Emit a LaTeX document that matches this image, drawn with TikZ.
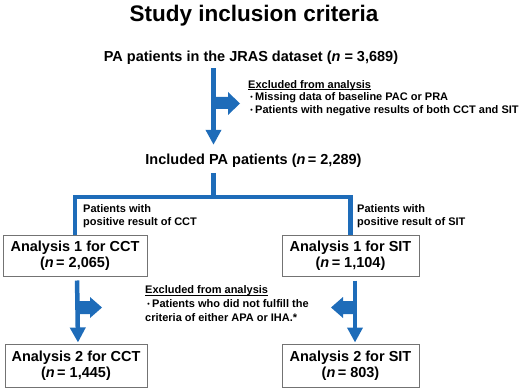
\documentclass[tikz,border=0pt]{standalone}
\usepackage{fontspec}
\setmainfont{Liberation Sans}
\usetikzlibrary{calc, positioning, arrows.meta}

\definecolor{jblue}{RGB}{30,108,185}
\definecolor{boxgray}{RGB}{115,115,115}
\newcommand{\jdot}{\makebox[7pt]{\raisebox{1.3pt}{\fontsize{7}{7}\selectfont\textbullet}}}
\newcommand{\exhead}{\underline{\smash{Excluded from analysis}}}

\begin{document}
\begin{tikzpicture}[x=1pt, y=-1pt,
    main/.style={font=\fontsize{14.5}{16}\selectfont\bfseries, inner sep=0pt, text height=10.5pt, text depth=3pt},
    box/.style={draw=boxgray, line width=1pt, align=center, font=\fontsize{14.5}{16}\selectfont\bfseries, inner sep=0pt},
    note/.style={align=left, anchor=west, inner sep=0pt, font=\fontsize{11}{12.6}\selectfont\bfseries},
    flow/.style={draw=jblue, line width=4.5pt, -{Triangle[length=15pt, width=15pt]}},
    link/.style={draw=jblue, line width=4.5pt, line join=miter},
    side/.style={fill=jblue}]
    \useasboundingbox (0,0) rectangle (532,390);

    \node[font=\fontsize{22.5}{27}\selectfont\bfseries, inner sep=0pt] (title) at (254,16) {Study inclusion criteria};

    \node[main] (all) at (251,58) {PA patients in the JRAS dataset (\textit{n} = 3,689)};
    \node[main] (incl) at (253.5,161) {Included PA patients (\textit{n}\,= 2,289)};

    \node[note] (excl1) at (248,102) {\exhead\\
        \jdot Missing data of baseline PAC or PRA\\
        \jdot Patients with negative results of both CCT and SIT};

    \coordinate (split) at (213.5,197);

    \node[note, font=\fontsize{11}{13}\selectfont\bfseries] (labcct) at (83,216.5) {Patients with\\positive result of CCT};
    \node[note, font=\fontsize{11}{13}\selectfont\bfseries] (labsit) at (357,216.5) {Patients with\\positive result of SIT};

    \node[box, minimum width=144pt, minimum height=41pt] (ana1cct) at (75,255.5) {Analysis 1 for CCT\\(\textit{n}\,= 2,065)};
    \node[box, minimum width=137pt, minimum height=41pt] (ana1sit) at (350.5,255.5) {Analysis 1 for SIT\\(\textit{n}\,= 1,104)};

    \node[note, font=\fontsize{11}{14}\selectfont\bfseries] (excl2) at (145,308) {\exhead\\
        \jdot Patients who did not fulfill the\\
        criteria of either APA or IHA.*};

    \node[box, minimum width=142pt, minimum height=43pt] (ana2cct) at (76,365.5) {Analysis 2 for CCT\\(\textit{n}\,= 1,445)};
    \node[box, minimum width=137pt, minimum height=43pt] (ana2sit) at (350.5,365.5) {Analysis 2 for SIT\\(\textit{n}\,= 803)};

    % top part
    \draw[flow, shorten <=3.25pt, shorten >=9.25pt] (all.south -| split) -- (incl.north -| split);
    \fill[side] (213.5,97) -- (228,97) -- (228,92) -- (240,103.5) -- (228,115) -- (228,109) -- (213.5,109) -- cycle;

    % split into CCT and SIT
    \draw[link, shorten <=5pt] (incl.south -| split) -- (split);
    \draw[link] (ana1cct.north) -- (ana1cct.north |- split) -- (ana1sit.north |- split) -- (ana1sit.north);

    % second exclusion
    \draw[flow, shorten <=4pt, shorten >=1pt] ([xshift=2pt]ana1cct.south) -- ([xshift=2pt]ana2cct.north);
    \draw[flow, shorten <=4pt, shorten >=1pt] ([xshift=4.5pt]ana1sit.south) -- ([xshift=4.5pt]ana2sit.north);
    \fill[side] (77,301) -- (90,301) -- (90,297) -- (102,307.5) -- (90,318) -- (90,314) -- (77,314) -- cycle;
    \fill[side] (355,301) -- (343,301) -- (343,297) -- (331,307.5) -- (343,318) -- (343,314) -- (355,314) -- cycle;
\end{tikzpicture}
\end{document}
